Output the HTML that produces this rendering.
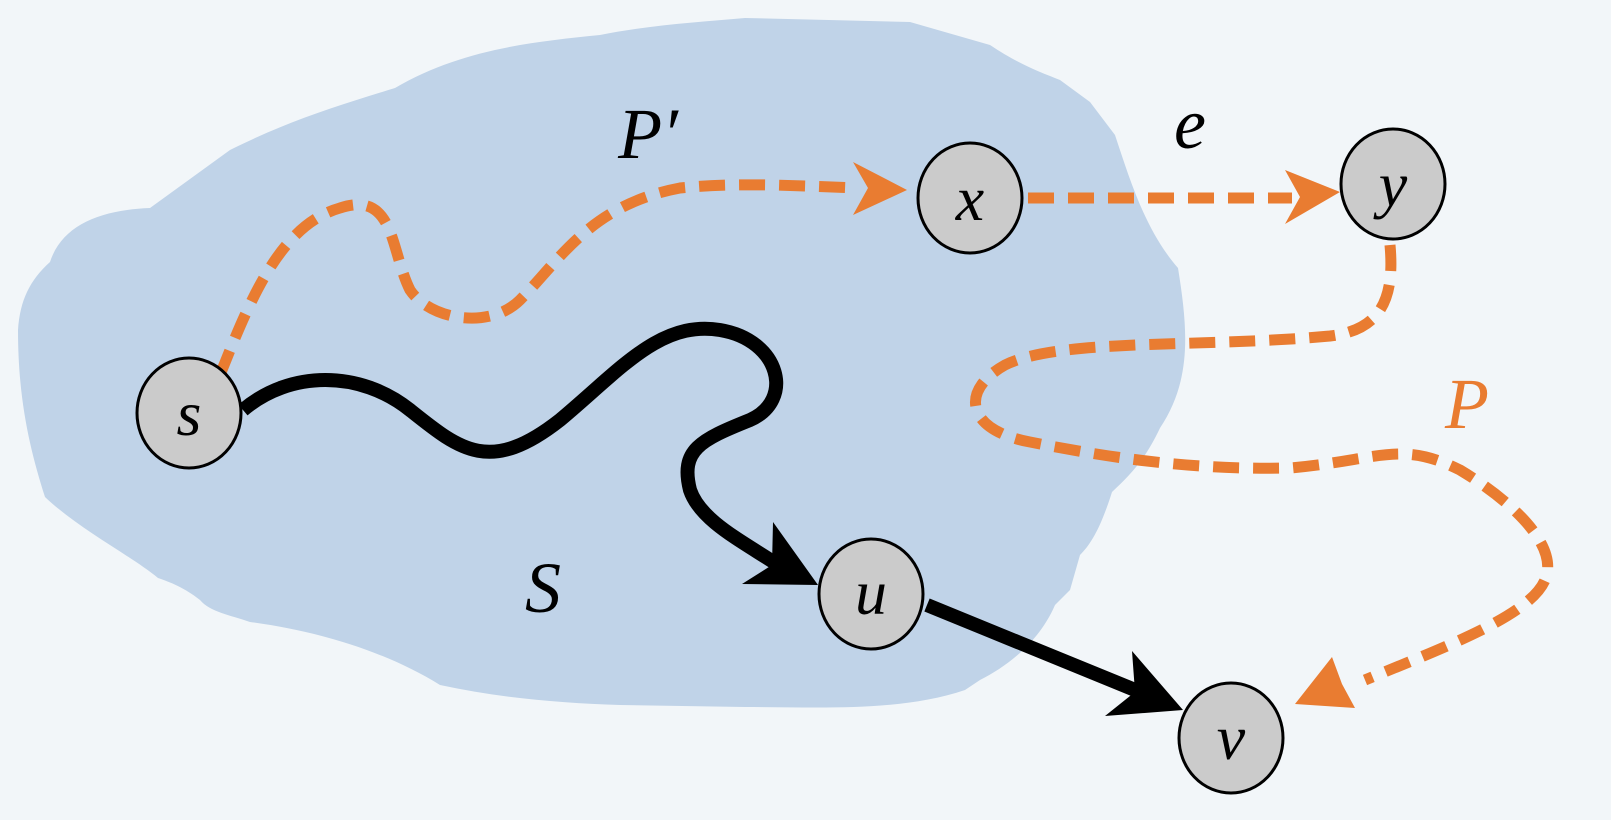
<!DOCTYPE html>
<html><head><meta charset="utf-8"><style>
html,body{margin:0;padding:0;background:#f2f6f9;}
svg{display:block}
text{font-family:"Liberation Serif",serif;font-style:italic;}
</style></head><body>
<svg width="1611" height="820" viewBox="0 0 1611 820" xmlns="http://www.w3.org/2000/svg">
<rect width="1611" height="820" fill="#f2f6f9"/>
<path d="M150,208 L230,150 C290,120 340,105 395,88 C460,50 530,42 600,35 C650,25 700,22 745,18 L910,22 L990,45 C1020,65 1040,72 1060,80 L1090,102 L1115,135 C1130,180 1145,230 1178,268 C1188,330 1192,380 1160,428 C1145,460 1130,475 1112,492 C1100,530 1090,545 1080,555 L1070,590 L1055,605 C1040,640 1010,665 980,680 L965,690 C900,712 820,707 745,707 L620,705 C560,703 500,698 440,685 C380,648 310,630 250,622 C230,615 210,612 200,600 C185,588 170,582 158,578 C130,555 80,530 45,497 C30,450 18,400 18,330 C20,300 30,280 50,262 C62,225 100,210 150,208 Z" fill="#c0d3e8"/>

<g fill="none" stroke="#e97c31" stroke-width="11" stroke-dasharray="26 14">
<path d="M220,375 C250,300 280,225 340,208 C395,190 390,250 410,290 C430,320 490,330 520,300 C560,260 590,205 680,188 C740,182 800,186 858,188"/>
<path d="M1028,198 L1292,198"/>
<path d="M1390,245 C1395,300 1380,330 1330,336 C1200,348 1060,338 1005,365 C960,390 965,430 1030,442 C1120,460 1200,470 1290,468 C1380,460 1400,440 1460,470 C1510,500 1560,545 1545,580 C1530,615 1450,645 1365,680"/>
</g>
<polygon points="907,190 853,162 868,188 853,215" fill="#e97c31"/>
<polygon points="1340,192 1285,170 1300,197 1285,224" fill="#e97c31"/>
<polygon points="1295,704 1332,657 1342,684 1355,708" fill="#e97c31"/>

<path d="M243,410 C290,370 360,370 410,410 C460,450 490,475 560,420 C620,370 660,320 720,330 C780,340 795,400 750,420 C700,440 680,450 690,490 C700,520 740,540 778,565" fill="none" stroke="#000" stroke-width="14"/>
<polygon points="818,585 773,522 772,565 742,584" fill="#000"/>
<line x1="927" y1="605" x2="1140" y2="692" stroke="#000" stroke-width="14"/>
<polygon points="1183,710 1132,651 1135,692 1105,716" fill="#000"/>

<g fill="#cbcbcb" stroke="#000" stroke-width="3">
<ellipse cx="189" cy="413" rx="52" ry="55"/>
<ellipse cx="970" cy="198" rx="52" ry="55"/>
<ellipse cx="1393" cy="184" rx="52" ry="55"/>
<ellipse cx="871" cy="594" rx="52" ry="55"/>
<ellipse cx="1231" cy="738" rx="52" ry="55"/>
</g>
<g font-size="64" fill="#000" text-anchor="middle">
<text x="189" y="435">s</text>
<text x="970" y="220">x</text>
<text x="1393" y="206">y</text>
<text x="871" y="614">u</text>
<text x="1231" y="759">v</text>
<text x="648" y="158" font-size="72">P′</text>
<text x="1190" y="148" font-size="72">e</text>
<text x="543" y="612" font-size="72">S</text>
<text x="1467" y="428" font-size="72" fill="#e97c31">P</text>
</g>
</svg>
</body></html>
